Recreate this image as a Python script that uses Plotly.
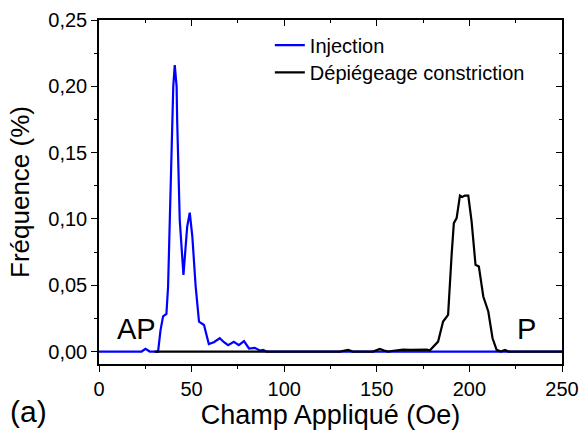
import plotly.graph_objects as go

# Injection (blue)
inj_x = [0, 10, 20, 23.0, 25.1, 27.4, 31.9, 33.2, 34.6, 36.4, 37.3, 38.2, 39.6, 40.1,
         40.9, 41.9, 42.2, 43.6, 45.6, 47.6, 49.0, 50.4, 52.2, 54.0, 56.7, 59.3, 62.0,
         65.2, 67.5, 69.7, 72.8, 75.5, 78.3, 81.0, 84.1, 86.8, 88.6, 90.4, 100, 150, 200,
         250]
inj_y = [0, 0, 0, 0, 0.002, 0, 0, 0.016, 0.0265, 0.0283, 0.049, 0.099, 0.175, 0.200,
         0.216, 0.200, 0.175, 0.099, 0.0577, 0.094, 0.1047, 0.0866, 0.049, 0.0225, 0.020,
         0.0057, 0.007, 0.010, 0.007, 0.0048, 0.0073, 0.0048, 0.0078, 0.0023, 0.0028,
         0.0008, 0.0013, 0, 0, 0, 0, 0]

# Dépiégeage constriction (black)
dep_x = [30, 60, 100, 130, 134.5, 137, 148, 151.6, 154, 156.1, 160, 164.2, 168, 172.3,
         176.9, 178.7, 181.4, 183.1, 185.8, 188.5, 190.4, 191.6, 193.1, 194.9, 196.1,
         197.6, 199.4, 201.2, 203.3, 205.1, 207.5, 210.2, 212.5, 214.7, 217, 219.2, 221,
         235, 250]
dep_y = [0, 0, 0, 0, 0.0012, 0, 0, 0.002, 0.0008, 0, 0.0008, 0.0015, 0.0012, 0.0015,
         0.0015, 0.001, 0.005, 0.0075, 0.0226, 0.0277, 0.0729, 0.0968, 0.1006, 0.1176,
         0.1165, 0.1176, 0.1176, 0.098, 0.0654, 0.0641, 0.0415, 0.0302, 0.010, 0.0013,
         0, 0.0012, 0, 0, 0]

x_ticks = [0, 50, 100, 150, 200, 250]
y_ticks = [0, 0.05, 0.10, 0.15, 0.20, 0.25]
y_labels = ['0,00', '0,05', '0,10', '0,15', '0,20', '0,25']

FONT = 'Arial, Liberation Sans, sans-serif'

fig = go.Figure()
fig.add_trace(go.Scatter(x=inj_x, y=inj_y, mode='lines', name='Injection',
                         line=dict(color='#0000FF', width=2.2), legend='legend'))
fig.add_trace(go.Scatter(x=dep_x, y=dep_y, mode='lines', name='Dépiégeage constriction',
                         line=dict(color='black', width=2.2), legend='legend2'))
# empty trace so the mirrored top/right axes get drawn
fig.add_trace(go.Scatter(x=[], y=[], xaxis='x2', yaxis='y2', showlegend=False,
                         hoverinfo='skip'))

yr = [-0.0094, 0.25]
xr = [0, 250]

fig.update_layout(
    width=581, height=430,
    margin=dict(l=99, r=19, t=20, b=66),
    paper_bgcolor='white', plot_bgcolor='white',
    font=dict(family=FONT, color='black'),
    xaxis=dict(range=xr, showgrid=False, zeroline=False, showline=True, automargin=False,
               linecolor='black', linewidth=1.5, ticks='outside', ticklen=6,
               tickwidth=1.2, tickcolor='black', tickvals=x_ticks,
               tickfont=dict(size=20),
               minor=dict(dtick=25, ticks='outside', ticklen=3, tickcolor='black',
                          tickwidth=1.2, tick0=0),
               title=dict(text='Champ Appliqué (Oe)', font=dict(size=27), standoff=10)),
    yaxis=dict(range=yr, showgrid=False, zeroline=False, showline=True, automargin=False,
               linecolor='black', linewidth=1.5, ticks='outside', ticklen=6,
               tickwidth=1.2, tickcolor='black', tickvals=y_ticks, ticktext=y_labels,
               tickfont=dict(size=20),
               minor=dict(dtick=0.025, tick0=0, ticks='outside', ticklen=3,
                          tickcolor='black', tickwidth=1.2),
               title=dict(text='Fréquence (%)', font=dict(size=26), standoff=11)),
    xaxis2=dict(range=xr, overlaying='x', side='top', showgrid=False, zeroline=False,
                automargin=False,
                showline=True, linecolor='black', linewidth=1.5, ticks='inside',
                ticklen=6, tickwidth=1.2, tickcolor='black', tickvals=x_ticks,
                showticklabels=False,
                minor=dict(dtick=25, tick0=0, ticks='inside', ticklen=3,
                           tickcolor='black', tickwidth=1.2)),
    yaxis2=dict(range=yr, overlaying='y', side='right', showgrid=False, zeroline=False,
                automargin=False,
                showline=True, linecolor='black', linewidth=1.5, ticks='inside',
                ticklen=6, tickwidth=1.2, tickcolor='black', tickvals=y_ticks,
                showticklabels=False,
                minor=dict(dtick=0.025, tick0=0, ticks='inside', ticklen=3,
                           tickcolor='black', tickwidth=1.2)),
    legend=dict(x=0.369, y=0.927, xanchor='left', yanchor='middle',
                bgcolor='rgba(0,0,0,0)', font=dict(size=20)),
    legend2=dict(x=0.369, y=0.848, xanchor='left', yanchor='middle',
                 bgcolor='rgba(0,0,0,0)', font=dict(size=20)),
    showlegend=True,
)

fig.add_annotation(x=20.4, y=0.017, xref='x', yref='y', text='AP', showarrow=False,
                   font=dict(size=29))
fig.add_annotation(x=231, y=0.017, xref='x', yref='y', text='P', showarrow=False,
                   font=dict(size=29))
fig.add_annotation(x=-0.153, y=-0.137, xref='paper', yref='paper', text='(a)',
                   xanchor='center', yanchor='middle', showarrow=False,
                   font=dict(size=30))

fig.write_html("out.html", config={'displayModeBar': False},
               post_script="document.body.style.margin='0px';")
